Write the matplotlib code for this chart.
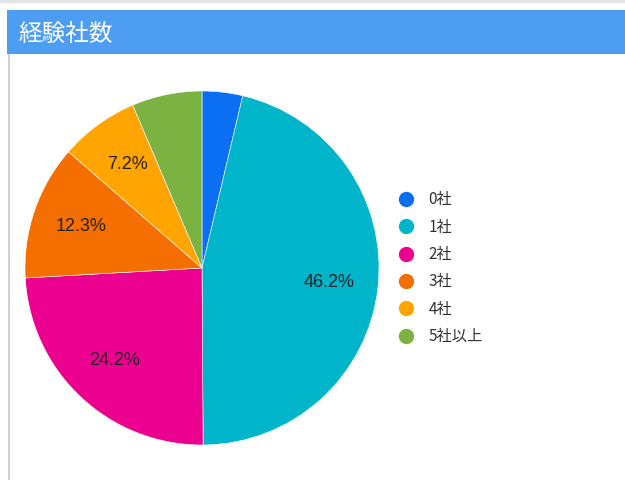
import matplotlib
matplotlib.use('Agg')
import matplotlib.pyplot as plt
from matplotlib.patches import Rectangle
from matplotlib.lines import Line2D

plt.rcParams['font.family'] = ['Noto Sans CJK JP', 'DejaVu Sans']

title = '経験社数'
labels = ['0社', '1社', '2社', '3社', '4社', '5社以上']
values = [3.7, 46.2, 24.2, 12.3, 7.2, 6.4]
colors = ['#0a6ff2', '#00b5ca', '#ec008f', '#f46f00', '#ffa400', '#7bb242']

W, H = 625, 480
fig = plt.figure(figsize=(W / 100, H / 100), dpi=100)

# card frame bits: top shadow line, header bar, left border
fig.add_artist(Rectangle((0, 1 - 3 / H), 1, 3 / H, transform=fig.transFigure,
                         color='#e4e4e4', lw=0))
fig.add_artist(Rectangle((7 / W, 1 - 54 / H), 1, 44 / H, transform=fig.transFigure,
                         color='#4d9df2', lw=0))
fig.add_artist(Rectangle((8 / W, 0), 2 / W, 1 - 54 / H, transform=fig.transFigure,
                         color='#d0d0d0', lw=0))
fig.text(18 / W, 1 - 34 / H, title, color='white', fontsize=17, va='center', ha='left')

# pie
cx, cy, r = 202, 268, 177
ax = fig.add_axes([(cx - r) / W, (H - cy - r) / H, 2 * r / W, 2 * r / H])


def fmt(pct):
    return f'{pct:.1f}%' if pct >= 7 else ''


wedges, texts, autotexts = ax.pie(values, colors=colors, startangle=90, counterclock=False,
                                  autopct=fmt, pctdistance=0.72,
                                  wedgeprops=dict(edgecolor='white', linewidth=0.4),
                                  textprops=dict(fontsize=13, color='#222222',
                                                 family=['Liberation Sans']))
ax.set_xlim(-1, 1)
ax.set_ylim(-1, 1)
ax.axis('off')

handles = [Line2D([], [], marker='o', ls='', markersize=10, color=c) for c in colors]
fig.legend(handles, labels, loc='upper left', bbox_to_anchor=(392 / W, 1 - 185 / H),
           frameon=False, fontsize=11, labelcolor='#333333', handlelength=1.0,
           handletextpad=1.0, labelspacing=0.68, borderaxespad=0)

fig.savefig('out.png', dpi=100)
